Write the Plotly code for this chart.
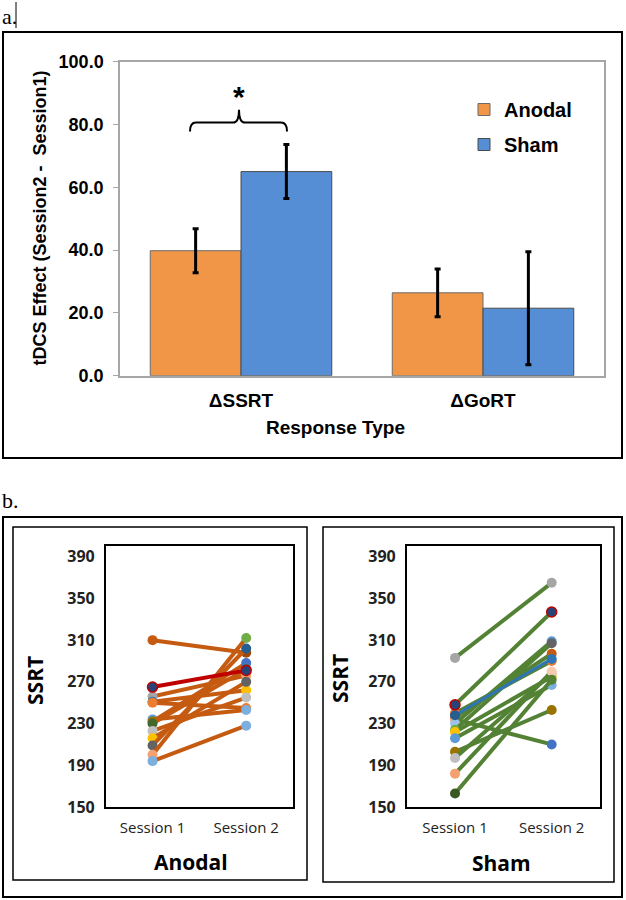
import plotly.graph_objects as go

# ---------------- data ----------------
categories = ["ΔSSRT", "ΔGoRT"]
anodal_mean = [39.8, 26.4]
anodal_err = [7.0, 7.6]
sham_mean = [65.0, 21.5]
sham_err = [8.6, 18.0]

sessions = ["Session 1", "Session 2"]
y_ticks = [150, 190, 230, 270, 310, 350, 390]

anodal_s1 = [310, 256, 251, 250, 234, 232, 230, 223, 216, 209, 200, 194, 265]
anodal_s2 = [298, 276, 262, 245, 243, 288, 282, 255, 270, 302, 312, 228, 281]

sham_s1 = [293, 236, 240, 234, 230, 224, 222, 216, 203, 197, 182, 163, 238, 248]
sham_s2 = [365, 297, 290, 210, 309, 307, 275, 267, 243, 278, 280, 272, 292, 337]

# ---------------- styles ----------------
anodal_c1 = ["#C55A11", "#A5A5A5", "#2E75B6", "#ED7D31", "#5B9BD5", "#997300", "#43682B",
             "#BFBFBF", "#FFC000", "#636363", "#F4A070", "#7CAFDD", "#264478"]
anodal_c2 = ["#9E480E", "#F4A070", "#FFC000", "#ED7D31", "#7CAFDD", "#4472C4", "#43682B",
             "#BFBFBF", "#636363", "#255E91", "#70AD47", "#7CAFDD", "#264478"]
anodal_line = ["#C55A11"] * 12 + ["#C00000"]
anodal_mline = ["rgba(0,0,0,0)"] * 12 + ["#C00000"]

sham_c1 = ["#A5A5A5", "#C55A11", "#ED7D31", "#F4A070", "#9DC3E6", "#70AD47", "#FFC000",
           "#5B9BD5", "#997300", "#BFBFBF", "#F4A070", "#385723", "#255E91", "#264478"]
sham_c2 = ["#A5A5A5", "#C55A11", "#ED7D31", "#4472C4", "#5B9BD5", "#636363", "#FFC000",
           "#7CAFDD", "#997300", "#BFBFBF", "#F8CBAD", "#548235", "#2E75B6", "#264478"]
sham_line = ["#548235"] * 12 + ["#2E75B6", "#548235"]
sham_lw = [4] * 12 + [3, 4]
sham_mline = ["rgba(0,0,0,0)"] * 13 + ["#C00000"]

W, H = 626, 900
def px(x):
    return x / W
def py(y):
    return 1 - y / H

ARIAL = "Arial, Liberation Sans, sans-serif"
CAL = "Open Sans, sans-serif"
SERIF = "Liberation Serif, Times New Roman, serif"

fig = go.Figure()

# ---------------- panel a ----------------
fig.add_trace(go.Bar(
    x=categories, y=anodal_mean, name="Anodal",
    marker=dict(color="#F09646", line=dict(color="#6b6b6b", width=1)),
    error_y=dict(type="data", array=anodal_err, color="black", thickness=3, width=3),
    xaxis="x", yaxis="y", legendgroup="a"))
fig.add_trace(go.Bar(
    x=categories, y=sham_mean, name="Sham",
    marker=dict(color="#558ED5", line=dict(color="#4a4a4a", width=1)),
    error_y=dict(type="data", array=sham_err, color="black", thickness=3, width=3),
    xaxis="x", yaxis="y", legendgroup="b"))

# ---------------- panel b ----------------
for i in range(len(anodal_s1)):
    fig.add_trace(go.Scatter(
        x=sessions, y=[anodal_s1[i], anodal_s2[i]], mode="lines+markers",
        line=dict(color=anodal_line[i], width=4),
        marker=dict(size=10, color=[anodal_c1[i], anodal_c2[i]],
                    line=dict(color=anodal_mline[i], width=1.5)),
        xaxis="x2", yaxis="y2", showlegend=False, hoverinfo="y"))

for i in range(len(sham_s1)):
    fig.add_trace(go.Scatter(
        x=sessions, y=[sham_s1[i], sham_s2[i]], mode="lines+markers",
        line=dict(color=sham_line[i], width=sham_lw[i]),
        marker=dict(size=10, color=[sham_c1[i], sham_c2[i]],
                    line=dict(color=sham_mline[i], width=1.5)),
        xaxis="x3", yaxis="y3", showlegend=False, hoverinfo="y"))

b_x = dict(type="category", range=[-0.5, 1.5], showline=True, linecolor="black",
           linewidth=1.5, mirror=True, showgrid=False, ticks="", automargin=False,
           tickfont=dict(family=CAL, size=15, color="#222"), ticklabelstandoff=6)
b_y = dict(range=[150, 400], tickvals=y_ticks, showline=True, linecolor="black",
           linewidth=1.5, mirror=True, showgrid=False, zeroline=False, ticks="",
           automargin=False,
           tickfont=dict(family=CAL, size=16, color="#222", weight="bold"),
           ticklabelstandoff=6)

fig.update_layout(
    width=W, height=H, margin=dict(l=0, r=0, t=0, b=0, pad=0, autoexpand=False),
    paper_bgcolor="white", plot_bgcolor="white",
    barmode="group", bargap=0.25, bargroupgap=0,
    showlegend=True,
    legend=dict(x=px(464), y=py(90), xanchor="left", yanchor="top",
                font=dict(family=ARIAL, size=20, color="black", weight="bold"),
                bgcolor="rgba(0,0,0,0)", traceorder="grouped", tracegroupgap=6,
                itemwidth=30),
    xaxis=dict(domain=[px(120), px(604)], showline=True, linecolor="#A6A6A6",
               linewidth=2, mirror=True, showgrid=False, ticks="", automargin=False,
               tickfont=dict(family=ARIAL, size=19, color="black", weight="bold"),
               ticklabelstandoff=6, anchor="y"),
    yaxis=dict(domain=[py(375.7), py(61.7)], range=[0, 100], dtick=20,
               tickformat=".1f", showline=True, linecolor="#A6A6A6", linewidth=1.5,
               mirror=True, showgrid=False, zeroline=False, ticks="outside",
               ticklen=5, tickcolor="#A6A6A6", automargin=False,
               tickfont=dict(family=ARIAL, size=18, color="black", weight="bold"),
               ticklabelstandoff=6, anchor="x"),
    xaxis2=dict(domain=[px(105.7), px(293)], anchor="y2", **b_x),
    yaxis2=dict(domain=[py(807), py(546.3)], anchor="x2", **b_y),
    xaxis3=dict(domain=[px(406.7), px(600)], anchor="y3", **b_x),
    yaxis3=dict(domain=[py(807), py(546.3)], anchor="x3", **b_y),
)

shapes = [
    # outer boxes
    dict(type="rect", xref="paper", yref="paper", x0=px(3), x1=px(622), y0=py(458), y1=py(32),
         line=dict(color="black", width=2)),
    dict(type="rect", xref="paper", yref="paper", x0=px(3), x1=px(622), y0=py(897), y1=py(517),
         line=dict(color="black", width=2)),
    dict(type="rect", xref="paper", yref="paper", x0=px(13), x1=px(307), y0=py(880), y1=py(527),
         line=dict(color="black", width=1.5)),
    dict(type="rect", xref="paper", yref="paper", x0=px(323), x1=px(614), y0=py(882), y1=py(527),
         line=dict(color="black", width=1.5)),
    # text cursor after "a."
    dict(type="line", xref="paper", yref="paper", x0=px(16), x1=px(16), y0=py(28), y1=py(2),
         line=dict(color="black", width=1)),
]
# significance bracket
x1, x2, xc, d = px(190), px(287), px(239), px(6)
ye, yb, yt = 77.8, 80.6, 84.7
path = (f"M{x1},{ye} Q{x1},{yb} {x1 + d},{yb} L{xc - d},{yb} Q{xc},{yb} {xc},{yt} "
        f"Q{xc},{yb} {xc + d},{yb} L{x2 - d},{yb} Q{x2},{yb} {x2},{ye}")
shapes.append(dict(type="path", xref="paper", yref="y", path=path,
                   line=dict(color="black", width=2)))
fig.update_layout(shapes=shapes)

ann = [
    dict(text="a.", x=px(0), y=py(16), xanchor="left", yanchor="middle",
         font=dict(family=SERIF, size=22, color="black")),
    dict(text="b.", x=px(0), y=py(500), xanchor="left", yanchor="middle",
         font=dict(family=SERIF, size=22, color="black")),
    dict(text="tDCS Effect (Session2 -  Session1)", x=px(40), y=py(218.5), textangle=-90,
         xanchor="center", yanchor="middle",
         font=dict(family=ARIAL, size=18, color="black", weight="bold")),
    dict(text="Response Type", x=px(335), y=py(427), xanchor="center", yanchor="middle",
         font=dict(family=ARIAL, size=19, color="black", weight="bold")),
    dict(text="*", x=xc, y=py(97), xanchor="center", yanchor="middle",
         font=dict(family=ARIAL, size=30, color="black", weight="bold")),
    dict(text="SSRT", x=px(35), y=py(681), textangle=-90, xanchor="center", yanchor="middle",
         font=dict(family=CAL, size=21, color="black", weight="bold")),
    dict(text="SSRT", x=px(340), y=py(678), textangle=-90, xanchor="center", yanchor="middle",
         font=dict(family=CAL, size=21, color="black", weight="bold")),
    dict(text="Anodal", x=px(191), y=py(862), xanchor="center", yanchor="middle",
         font=dict(family=CAL, size=21, color="black", weight="bold")),
    dict(text="Sham", x=px(501), y=py(863), xanchor="center", yanchor="middle",
         font=dict(family=CAL, size=21, color="black", weight="bold")),
]
for a in ann:
    a.update(xref="paper", yref="paper", showarrow=False)
fig.update_layout(annotations=ann)

fig.write_html(
    "out.html",
    config={"displayModeBar": False},
    post_script="document.body.style.margin='0';document.body.style.padding='0';"
                "document.documentElement.style.overflow='hidden';")
